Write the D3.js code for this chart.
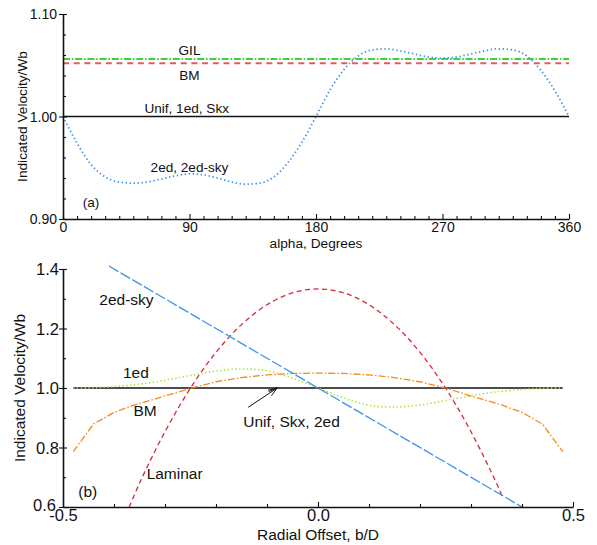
<!DOCTYPE html>
<html><head><meta charset="utf-8">
<script src="https://cdn.jsdelivr.net/npm/d3@7"></script>
<style>
body{margin:0;background:#fff}
svg{display:block}
text{font-family:"Liberation Sans",Arial,Helvetica,sans-serif;fill:#111}
</style>
</head><body>
<svg id="chart" width="597" height="545"></svg>
<script>
// ---------- Panel (a): indicated velocity vs alpha ----------
const alphaDeg = [0,10,20,30,40,50,60,70,80,90,100,110,120,130,140,150,160,170,180,
                  190,200,210,220,230,240,250,260,270,280,290,300,310,320,330,340,350,360];
const ed2Vals  = [1.000,0.974,0.953,0.941,0.936,0.935,0.936,0.939,0.942,0.944,0.943,0.940,0.936,0.934,0.935,0.941,0.955,0.975,1.000,
                  1.026,1.046,1.059,1.065,1.066,1.064,1.061,1.058,1.057,1.058,1.061,1.064,1.066,1.065,1.059,1.045,1.025,1.000];
const unifA = [1.000, 1.000];
const gilA  = [1.056, 1.056];
const bmA   = [1.052, 1.052];
const spanA = [0, 360];
const alphaTicks = [0,90,180,270,360];
const alphaMinor = [10,20,30,40,50,60,70,80,100,110,120,130,140,150,160,170,190,200,210,220,230,240,250,260,280,290,300,310,320,330,340,350];
const velTicksA = [0.90,1.00,1.10];
const velMinorA = [0.92,0.94,0.96,0.98,1.02,1.04,1.06,1.08];

// ---------- Panel (b): indicated velocity vs radial offset ----------
const lamOffset = [-0.37,-0.35,-0.30,-0.25,-0.20,-0.15,-0.10,-0.05,0.00,0.05,0.10,0.15,0.20,0.25,0.30,0.35,0.363];
const lamVals   = [0.600,0.680,0.853,1.000,1.120,1.213,1.280,1.320,1.333,1.320,1.280,1.213,1.120,1.000,0.853,0.680,0.628];
const ed1Offset = [-0.48,-0.44,-0.40,-0.35,-0.30,-0.25,-0.20,-0.15,-0.10,-0.05,0.00,0.05,0.10,0.15,0.20,0.25,0.30,0.35,0.40,0.44,0.48];
const ed1Vals   = [1.000,1.001,1.005,1.013,1.026,1.042,1.057,1.064,1.058,1.033,1.000,0.967,0.942,0.936,0.943,0.958,0.974,0.987,0.995,0.999,1.000];
const bmOffset  = [-0.48,-0.44,-0.40,-0.36,-0.30,-0.25,-0.20,-0.15,-0.10,-0.05,0.00,0.05,0.10,0.15,0.20,0.25,0.30,0.36,0.40,0.44,0.48];
const bmVals    = [0.786,0.879,0.918,0.943,0.973,0.999,1.021,1.035,1.044,1.049,1.050,1.049,1.044,1.035,1.021,1.000,0.973,0.943,0.918,0.879,0.786];
const skyOffset = [-0.41,0.00,0.40];
const skyVals   = [1.41,1.00,0.60];
const unifOffset = [-0.48,0.48];
const unifVals   = [1.00,1.00];
const offsetTicks = [-0.5,0.0,0.5];
const offsetMinor = [-0.4,-0.3,-0.2,-0.1,0.1,0.2,0.3,0.4];
const velTicksB = [0.6,0.8,1.0,1.2,1.4];
const velMinorB = [0.7,0.9,1.1,1.3];

// annotation labels in data units
const labelsA = [
  {t:"GIL", x:90, y:1.060, a:"middle"},
  {t:"BM", x:90, y:1.0356, a:"middle"},
  {t:"Unif, 1ed, Skx", x:88, y:1.0034, a:"middle"},
  {t:"2ed, 2ed-sky", x:90, y:0.9463, a:"middle"},
  {t:"(a)", x:14, y:0.9117, a:"start"}
];
const labelsB = [
  {t:"2ed-sky", x:-0.3755, y:1.279, a:"middle"},
  {t:"1ed", x:-0.357, y:1.0326, a:"middle"},
  {t:"BM", x:-0.339, y:0.907, a:"middle"},
  {t:"Laminar", x:-0.336, y:0.694, a:"start"},
  {t:"(b)", x:-0.47, y:0.634, a:"start"},
  {t:"Unif, Skx, 2ed", x:-0.1465, y:0.869, a:"start"}
];
const arrowB = {x1:-0.137, y1:0.935, x2:-0.08, y2:1.0};

const svg = d3.select("#chart");

svg.append("defs").append("marker")
  .attr("id","arrowhead").attr("viewBox","-10 -5 12 10")
  .attr("refX",0).attr("refY",0).attr("markerWidth",12).attr("markerHeight",10)
  .attr("markerUnits","userSpaceOnUse").attr("orient","auto")
  .append("path").attr("d","M-9,-3.2L0,0L-9,3.2M-9,-1.6L0,0")
  .attr("fill","none").attr("stroke","#111").attr("stroke-width",0.9);

function zip(xs, ys){ return xs.map((x,i)=>[x, ys[i]]); }

function drawAxes(g, x, y, xt, xm, yt, ym, xfmt, yfmt, fs, xLabY, yLabX){
  const x0 = x.range()[0], y0 = y.range()[0];
  const xa = g.append("g").attr("transform",`translate(0,${y0})`)
    .call(d3.axisBottom(x).tickValues(xt).tickSizeInner(-5).tickSizeOuter(0).tickFormat(xfmt));
  xa.selectAll("text").attr("y", xLabY).attr("dy", null).style("font-size", fs+"px");
  const xm_ = g.append("g").attr("transform",`translate(0,${y0})`)
    .call(d3.axisBottom(x).tickValues(xm).tickSizeInner(-3).tickSizeOuter(0).tickFormat(""));
  xm_.select(".domain").remove();
  const ya = g.append("g").attr("transform",`translate(${x0},0)`)
    .call(d3.axisLeft(y).tickValues(yt).tickSizeInner(4).tickSizeOuter(0).tickFormat(yfmt));
  ya.selectAll("text").attr("x", yLabX).attr("dy","0.35em").style("font-size", fs+"px");
  const ya2 = g.append("g").attr("transform",`translate(${x0},0)`)
    .call(d3.axisLeft(y).tickValues(yt).tickSizeInner(-4).tickSizeOuter(0).tickFormat(""));
  ya2.select(".domain").remove();
  const ym_ = g.append("g").attr("transform",`translate(${x0},0)`)
    .call(d3.axisLeft(y).tickValues(ym).tickSizeInner(-3).tickSizeOuter(0).tickFormat(""));
  ym_.select(".domain").remove();
  g.selectAll(".domain").attr("stroke","#111").attr("stroke-width",1.6);
  g.selectAll(".tick line").attr("stroke","#111").attr("stroke-width",1.1);
  g.selectAll(".tick text").attr("fill","#111").attr("font-family",null);
  g.selectAll("g").attr("font-family",null).attr("font-size",null);
  return ya;
}

// ---------------- Panel (a) ----------------
const xA = d3.scaleLinear().domain([0,360]).range([63,569]);
const yA = d3.scaleLinear().domain([0.90,1.10]).range([219,14]);
const gA = svg.append("g");
const lineA = d3.line().x(d=>xA(d[0])).y(d=>yA(d[1]));
const smoothA = d3.line().x(d=>xA(d[0])).y(d=>yA(d[1])).curve(d3.curveMonotoneX);

gA.append("path").attr("d", lineA(zip(spanA, gilA)))
  .attr("fill","none").attr("stroke","#3fd23f").attr("stroke-width",2)
  .attr("stroke-dasharray","7,1.8,1.6,1.8");
gA.append("path").attr("d", lineA(zip(spanA, bmA)))
  .attr("fill","none").attr("stroke","#e65a5a").attr("stroke-width",2)
  .attr("stroke-dasharray","6,4.7");
gA.append("path").attr("d", lineA(zip(spanA, unifA)))
  .attr("fill","none").attr("stroke","#111").attr("stroke-width",1.4);
gA.append("path").attr("d", smoothA(zip(alphaDeg, ed2Vals)))
  .attr("fill","none").attr("stroke","#3d95f5").attr("stroke-width",1.8)
  .attr("stroke-dasharray","1.4,2.6");

drawAxes(gA, xA, yA, alphaTicks, alphaMinor, velTicksA, velMinorA,
  d=>String(d), d=>d.toFixed(2), 14, 13, -6);

gA.selectAll(".lblA").data(labelsA).join("text").attr("class","lblA")
  .attr("x", d=>xA(d.x)).attr("y", d=>yA(d.y)).attr("text-anchor", d=>d.a)
  .style("font-size","13.6px").text(d=>d.t);
gA.append("text").attr("x",(xA(0)+xA(360))/2).attr("y",248).attr("text-anchor","middle")
  .style("font-size","13.7px").text("alpha, Degrees");
gA.append("text").attr("transform",`translate(27,${(yA(0.9)+yA(1.1))/2}) rotate(-90)`)
  .attr("text-anchor","middle").style("font-size","13.7px").text("Indicated Velocity/Wb");

// ---------------- Panel (b) ----------------
const xB = d3.scaleLinear().domain([-0.5,0.5]).range([63,573]);
const yB = d3.scaleLinear().domain([0.6,1.4]).range([507,269]);
const gB = svg.append("g");
const lineB = d3.line().x(d=>xB(d[0])).y(d=>yB(d[1]));
const smoothB = d3.line().x(d=>xB(d[0])).y(d=>yB(d[1])).curve(d3.curveCatmullRom);

gB.append("path").attr("d", lineB(zip(unifOffset, unifVals)))
  .attr("fill","none").attr("stroke","#111").attr("stroke-width",1.4);
gB.append("path").attr("d", smoothB(zip(ed1Offset, ed1Vals)))
  .attr("fill","none").attr("stroke","#a8e640").attr("stroke-width",1.6)
  .attr("stroke-dasharray","1.4,2.4");
gB.append("path").attr("d", lineB(zip(bmOffset, bmVals)))
  .attr("fill","none").attr("stroke","#f58a20").attr("stroke-width",1.3)
  .attr("stroke-dasharray","7,2,1.6,2");
gB.append("path").attr("d", smoothB(zip(lamOffset, lamVals)))
  .attr("fill","none").attr("stroke","#d9283a").attr("stroke-width",1.3)
  .attr("stroke-dasharray","5,3.5");
gB.append("path").attr("d", lineB(zip(skyOffset, skyVals)))
  .attr("fill","none").attr("stroke","#3d93ef").attr("stroke-width",1.3)
  .attr("stroke-dasharray","11,2.5");

const yaxB = drawAxes(gB, xB, yB, offsetTicks, offsetMinor, velTicksB, velMinorB,
  d=>d.toFixed(1), d=>d.toFixed(1), 16.5, 14, -4);
// bottom-most y label sits a little left/up, as in the original, to clear "-0.5"
yaxB.selectAll(".tick text").filter(d=>d===0.6).attr("x",-7).attr("dy","0.2em");

gB.selectAll(".lblB").data(labelsB).join("text").attr("class","lblB")
  .attr("x", d=>xB(d.x)).attr("y", d=>yB(d.y)).attr("text-anchor", d=>d.a)
  .style("font-size","15.5px").text(d=>d.t);
gB.append("line")
  .attr("x1", xB(arrowB.x1)).attr("y1", yB(arrowB.y1))
  .attr("x2", xB(arrowB.x2)).attr("y2", yB(arrowB.y2))
  .attr("stroke","#111").attr("stroke-width",1).attr("marker-end","url(#arrowhead)");
gB.append("text").attr("x",(xB(-0.5)+xB(0.5))/2).attr("y",539.5).attr("text-anchor","middle")
  .style("font-size","15.5px").text("Radial Offset, b/D");
gB.append("text").attr("transform",`translate(25,${(yB(0.6)+yB(1.4))/2}) rotate(-90)`)
  .attr("text-anchor","middle").style("font-size","15.5px").text("Indicated Velocity/Wb");
</script>
</body></html>
